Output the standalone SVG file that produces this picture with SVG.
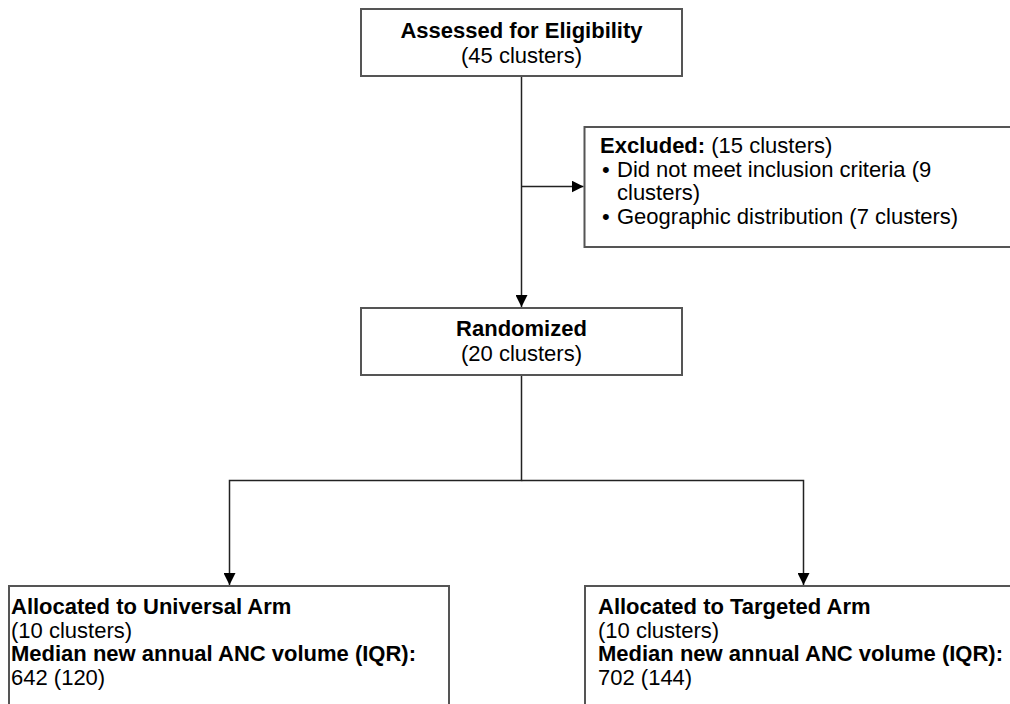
<svg xmlns="http://www.w3.org/2000/svg" width="1010" height="704" viewBox="0 0 1010 704">
<defs>
<style>
.box{fill:#fff;stroke:#555;stroke-width:2}
.ln{fill:none;stroke:#222;stroke-width:1.5}
text{font-family:"Liberation Sans",Arial,sans-serif;font-size:22px;fill:#000}
.b{font-weight:bold}
.c{text-anchor:middle}
</style>
<marker id="ah" markerWidth="12" markerHeight="12" viewBox="0 0 12 12" refX="12" refY="6" orient="auto" markerUnits="userSpaceOnUse">
<path d="M0,0 L12,6 L0,12 Z" fill="#000"/>
</marker>
</defs>
<rect width="1010" height="704" fill="#fff"/>
<g id="connectors">
<line class="ln" x1="521.5" y1="76" x2="521.5" y2="307" marker-end="url(#ah)"/>
<line class="ln" x1="521.5" y1="186.5" x2="583.5" y2="186.5" marker-end="url(#ah)"/>
<polyline class="ln" points="521.5,375 521.5,480.5 229.5,480.5 229.5,585" marker-end="url(#ah)"/>
<polyline class="ln" points="521.5,480.5 803.5,480.5 803.5,585" marker-end="url(#ah)"/>
</g>
<g id="assessed">
<rect class="box" x="361" y="9" width="321" height="67"/>
<text class="b c" x="521.5" y="38">Assessed for Eligibility</text>
<text class="c" x="521.5" y="63">(45 clusters)</text>
</g>
<g id="excluded">
<rect class="box" x="584.5" y="127" width="440" height="120"/>
<text x="600" y="153"><tspan class="b">Excluded:</tspan> (15 clusters)</text>
<text x="602" y="177">•</text>
<text x="617" y="177">Did not meet inclusion criteria (9</text>
<text x="617" y="200">clusters)</text>
<text x="602" y="224">•</text>
<text x="617" y="224">Geographic distribution (7 clusters)</text>
</g>
<g id="randomized">
<rect class="box" x="361" y="308" width="321" height="67"/>
<text class="b c" x="521.5" y="336">Randomized</text>
<text class="c" x="521.5" y="361">(20 clusters)</text>
</g>
<g id="universal">
<rect class="box" x="9" y="586" width="440" height="130"/>
<text class="b" x="11" y="614">Allocated to Universal Arm</text>
<text x="11" y="638">(10 clusters)</text>
<text class="b" x="11" y="661">Median new annual ANC volume (IQR):</text>
<text x="11" y="685">642 (120)</text>
</g>
<g id="targeted">
<rect class="box" x="585" y="586" width="440" height="130"/>
<text class="b" x="598" y="614">Allocated to Targeted Arm</text>
<text x="598" y="638">(10 clusters)</text>
<text class="b" x="598" y="661">Median new annual ANC volume (IQR):</text>
<text x="598" y="685">702 (144)</text>
</g>
</svg>
